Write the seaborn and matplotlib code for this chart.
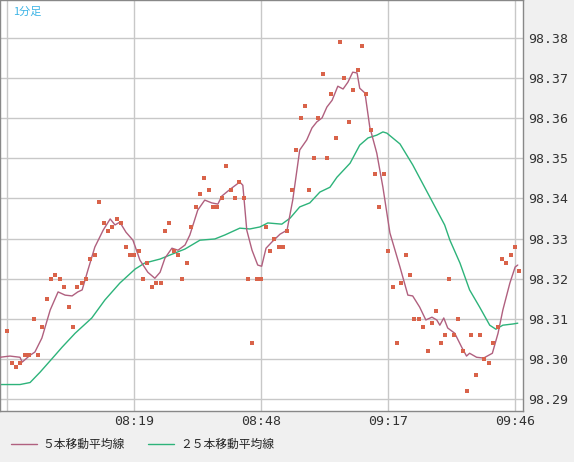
import numpy as np
import pandas as pd
import matplotlib
matplotlib.use("Agg")
import matplotlib.pyplot as plt
import seaborn as sns
from matplotlib.lines import Line2D

# 1-minute closes, minutes after 07:50
close_min = list(range(118))
close_val = [
    98.307, 98.299, 98.298, 98.299, 98.301, 98.301, 98.310, 98.301, 98.308, 98.315,
    98.320, 98.321, 98.320, 98.318, 98.313, 98.308, 98.318, 98.319, 98.320, 98.325,
    98.326, 98.339, 98.334, 98.332, 98.333, 98.335, 98.334, 98.328, 98.326, 98.326,
    98.327, 98.320, 98.324, 98.318, 98.319, 98.319, 98.332, 98.334, 98.327, 98.326,
    98.320, 98.324, 98.333, 98.338, 98.341, 98.345, 98.342, 98.338, 98.338, 98.340,
    98.348, 98.342, 98.340, 98.344, 98.340, 98.320, 98.304, 98.320, 98.320, 98.333,
    98.327, 98.330, 98.328, 98.328, 98.332, 98.342, 98.352, 98.360, 98.363, 98.342,
    98.350, 98.360, 98.371, 98.350, 98.366, 98.355, 98.379, 98.370, 98.359, 98.367,
    98.372, 98.378, 98.366, 98.357, 98.346, 98.338, 98.346, 98.327, 98.318, 98.304,
    98.319, 98.326, 98.321, 98.310, 98.310, 98.308, 98.302, 98.309, 98.312, 98.304,
    98.306, 98.320, 98.306, 98.310, 98.302, 98.292, 98.306, 98.296, 98.306, 98.300,
    98.299, 98.304, 98.308, 98.325, 98.324, 98.326, 98.328, 98.322,
]

ma5_min = [
    -1.7, 0.6, 2.9, 3.4, 5.2, 6.3, 7.9, 9.8, 11.6, 13.2, 14.8, 16.1, 17.1, 18.4, 20.0,
    21.9, 23.5, 24.6, 25.7, 27.1, 28.7, 30.3, 32.1, 33.7, 34.9, 36.0, 37.6, 39.0, 40.6,
    41.7, 43.5, 45.1, 46.7, 48.1, 49.0, 50.9, 53.1, 53.8, 54.7, 55.9, 57.2, 58.1, 59.1,
    60.4, 62.3, 63.9, 65.2, 66.8, 68.4, 69.6, 70.7, 71.9, 73.0, 74.2, 75.5, 76.7, 77.8,
    78.9, 79.9, 80.5, 81.7, 82.8, 84.4, 85.8, 87.4, 89.7, 91.5, 92.6, 94.2, 95.6, 97.0,
    98.1, 98.8, 99.7, 100.6, 102.2, 103.8, 104.9, 105.6, 107.2, 108.8, 110.8, 112.1,
    113.2, 114.8, 116.0, 116.6,
]
ma5_val = [
    98.3004, 98.3007, 98.3004, 98.2992, 98.3009, 98.3017, 98.3052, 98.3122, 98.3167,
    98.3159, 98.3157, 98.3167, 98.3172, 98.3221, 98.3279, 98.3321, 98.3349, 98.3334,
    98.3341, 98.3316, 98.3296, 98.3246, 98.3216, 98.3201, 98.3216, 98.3251, 98.3276,
    98.3271, 98.3284, 98.3309, 98.3371, 98.3396, 98.3389, 98.3386, 98.3406, 98.3423,
    98.3441, 98.3433, 98.3321, 98.3271, 98.3234, 98.3231, 98.3276, 98.3291, 98.3311,
    98.3321, 98.3396, 98.3521, 98.3546, 98.3576, 98.3591, 98.3601, 98.3628, 98.3645,
    98.3680, 98.3673, 98.3690, 98.3715, 98.3713, 98.3675, 98.3663, 98.3578, 98.3513,
    98.3428, 98.3314, 98.3229, 98.3159, 98.3157, 98.3129, 98.3097, 98.3104, 98.3097,
    98.3084, 98.3102, 98.3077, 98.3064, 98.3029, 98.3007, 98.3014, 98.3004, 98.3002,
    98.3014, 98.3064, 98.3122, 98.3189, 98.3229, 98.3234,
]

ma25_min = [
    -1.7, 2.9, 5.2, 7.5, 10.9, 12.5, 15.5, 19.3, 22.3, 25.7, 29.2, 31.4, 34.9, 38.3,
    40.6, 44.0, 47.4, 49.7, 53.1, 55.4, 57.7, 59.5, 62.7, 64.6, 66.8, 69.1, 71.4, 73.7,
    75.3, 78.3, 80.5, 82.4, 84.4, 85.8, 86.7, 89.7, 92.6, 96.5, 99.9, 101.1, 103.4,
    105.6, 107.9, 110.2, 111.6, 113.2, 115.5, 116.6,
]
ma25_val = [
    98.2936, 98.2936, 98.2941, 98.2967, 98.3009, 98.3029, 98.3064, 98.3102, 98.3147,
    98.3189, 98.3224, 98.3239, 98.3249, 98.3264, 98.3274, 98.3296, 98.3299, 98.3309,
    98.3326, 98.3324, 98.3329, 98.3339, 98.3336, 98.3351, 98.3379, 98.3389, 98.3416,
    98.3428, 98.3453, 98.3488, 98.3533, 98.3551, 98.3558, 98.3566, 98.3563, 98.3536,
    98.3484, 98.3404, 98.3334, 98.3296, 98.3239, 98.3172, 98.3129, 98.3084, 98.3074,
    98.3084, 98.3087, 98.3089,
]

tick_min = [29, 58, 87, 116]
tick_labels = ["08:19", "08:48", "09:17", "09:46"]
ytick_vals = [98.29, 98.30, 98.31, 98.32, 98.33, 98.34, 98.35, 98.36, 98.37, 98.38]

sns.set_style("white")
plt.rcParams['font.family'] = ['Noto Sans CJK JP', 'DejaVu Sans']

C_DOT = "#d9634a"
C_MA5 = "#b0607f"
C_MA25 = "#2db37a"
GRID = "#c8c8c8"

fig = plt.figure(figsize=(5.74, 4.62), dpi=100, facecolor="#f0f0f0")
ax = fig.add_axes([0.0, 462 - 411 and (462 - 411) / 462, 523 / 574, 411 / 462])
ax.set_facecolor("white")

ax.set_xlim(-1.67, 117.8)
ax.set_ylim(98.287, 98.3895)

for v in ytick_vals:
    ax.axhline(v, color=GRID, lw=1, zorder=0)
for m in [0] + tick_min:
    ax.axvline(m, color=GRID, lw=1, zorder=0)

sns.lineplot(x=ma25_min, y=ma25_val, ax=ax, color=C_MA25, lw=1, sort=False, zorder=2)
sns.lineplot(x=ma5_min, y=ma5_val, ax=ax, color=C_MA5, lw=1, sort=False, zorder=3)
sns.scatterplot(x=close_min, y=close_val, ax=ax, color=C_DOT, marker="s", s=9,
                linewidth=0, zorder=4)

ax.yaxis.tick_right()
ax.set_yticks(ytick_vals)
ax.set_yticklabels([f"{v:.2f}" for v in ytick_vals], family="DejaVu Sans Mono",
                   fontsize=9.5, color="#333333")
ax.set_xticks(tick_min)
ax.set_xticklabels(tick_labels, family="DejaVu Sans Mono", fontsize=9.5, color="#333333")
ax.tick_params(length=0, pad=3)
ax.tick_params(axis="y", pad=4)
for s in ax.spines.values():
    s.set_color("#888888")
    s.set_linewidth(1)

ax.text(13 / 523, 1 - 12 / 411, "1分足", transform=ax.transAxes, color="#3cb4e6",
        fontsize=8, va="center", ha="left")

handles = [Line2D([], [], color=C_MA5, lw=1), Line2D([], [], color=C_MA25, lw=1)]
fig.legend(handles, ["５本移動平均線", "２５本移動平均線"], loc="lower left",
           bbox_to_anchor=(0.0, 0.0), ncol=2, frameon=False, fontsize=8.5,
           handlelength=2.2, handletextpad=0.5, columnspacing=2.0)

fig.savefig("out.png", dpi=100, facecolor=fig.get_facecolor())
